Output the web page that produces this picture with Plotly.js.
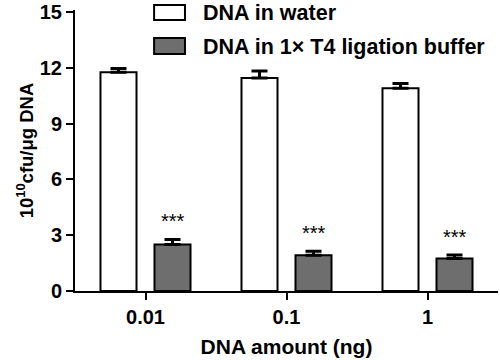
<!DOCTYPE html>
<html>
<head>
<meta charset="utf-8">
<script src="https://cdn.plot.ly/plotly-3.0.1.min.js"></script>
<style>html,body{margin:0;padding:0;background:#fff;}#chart{width:500px;height:360px;}</style>
</head>
<body>
<div id="chart"></div>
<script>
const categories = ['0.01', '0.1', '1'];
const seriesNames = ['DNA in water', 'DNA in 1\u00d7 T4 ligation buffer'];
const waterValues = [11.75, 11.45, 10.9];
const waterErrors = [0.2, 0.37, 0.25];
const bufferValues = [2.5, 1.92, 1.75];
const bufferErrors = [0.27, 0.22, 0.18];
const significance = ['***', '***', '***'];
const yTicks = [0, 3, 6, 9, 12, 15];

const FONT = 'Arial, "Liberation Sans", sans-serif';
const GRAY = '#6e6e6e';

const traces = [
  {
    type: 'bar', name: seriesNames[0], x: categories, y: waterValues,
    marker: {color: '#ffffff', line: {color: '#000', width: 2}},
    error_y: {type: 'data', array: waterErrors, arrayminus: waterErrors.map(() => 0), symmetric: false,
              color: '#000', thickness: 3, width: 8},
    showlegend: false, hoverinfo: 'none'
  },
  {
    type: 'bar', name: seriesNames[1], x: categories, y: bufferValues,
    marker: {color: GRAY, line: {color: '#000', width: 2}},
    error_y: {type: 'data', array: bufferErrors, arrayminus: bufferErrors.map(() => 0), symmetric: false,
              color: '#000', thickness: 3, width: 8},
    showlegend: false, hoverinfo: 'none'
  }
];

// significance marks above the buffer bars (category index on the x axis)
const annotations = categories.map((c, i) => ({
  x: i, xref: 'x', y: bufferValues[i] + bufferErrors[i], yref: 'y',
  xshift: 27, yshift: 5, yanchor: 'bottom', xanchor: 'center',
  text: significance[i], showarrow: false,
  font: {family: FONT, size: 20, color: '#000'}
}));

// custom legend (box + label)
const legendFill = ['#ffffff', GRAY];
const legendY = [[0.964, 1.018], [0.843, 0.900]];
const legendTextY = [0.989, 0.868];
const shapes = [];
seriesNames.forEach((n, i) => {
  shapes.push({type: 'rect', xref: 'paper', yref: 'paper', x0: 0.187, x1: 0.260,
               y0: legendY[i][0], y1: legendY[i][1],
               fillcolor: legendFill[i], line: {color: '#000', width: 2}});
  annotations.push({xref: 'paper', yref: 'paper', x: 0.297, y: legendTextY[i],
                    xanchor: 'left', yanchor: 'middle', text: n, showarrow: false,
                    font: {family: FONT, size: 21.5, color: '#000', weight: 'bold'}});
});

const layout = {
  width: 500, height: 360,
  margin: {l: 75, r: 2, t: 10, b: 69},
  paper_bgcolor: '#fff', plot_bgcolor: '#fff',
  barmode: 'group', bargap: 0.234, bargroupgap: 0.333,
  font: {family: FONT, color: '#000'},
  xaxis: {
    type: 'category', range: [-0.5, 2.5],
    showline: true, linecolor: '#000', linewidth: 2,
    ticks: 'outside', ticklen: 7, tickwidth: 2, tickcolor: '#000',
    showgrid: false, zeroline: false,
    tickfont: {family: FONT, size: 20, color: '#000', weight: 'bold'},
    title: {text: 'DNA amount (ng)', font: {family: FONT, size: 21, color: '#000', weight: 'bold'}, standoff: 12}
  },
  yaxis: {
    range: [0, 15.1], tickmode: 'array', tickvals: yTicks, ticktext: yTicks.map(String),
    showline: true, linecolor: '#000', linewidth: 2,
    ticks: 'outside', ticklen: 7, tickwidth: 2, tickcolor: '#000',
    showgrid: false, zeroline: false,
    tickfont: {family: FONT, size: 20, color: '#000', weight: 'bold'},
    title: {text: '10<sup>10</sup>cfu/\u03bcg DNA', font: {family: FONT, size: 18.5, color: '#000', weight: 'bold'}, standoff: 1}
  },
  shapes: shapes,
  annotations: annotations,
  showlegend: false
};

Plotly.newPlot('chart', traces, layout, {displayModeBar: false, staticPlot: true});
</script>
</body>
</html>
